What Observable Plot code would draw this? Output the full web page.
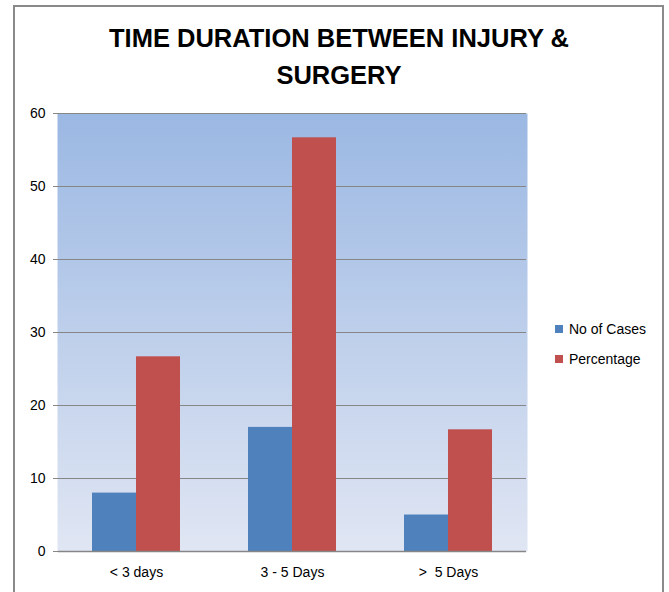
<!DOCTYPE html>
<html>
<head>
<meta charset="utf-8">
<script src="https://cdn.jsdelivr.net/npm/d3@7"></script>
<script src="https://cdn.jsdelivr.net/npm/@observablehq/plot@0.6"></script>
<style>
  html, body { margin: 0; padding: 0; background: #fff; }
  body { width: 669px; height: 592px; position: relative; overflow: hidden; font-family: "Liberation Sans", Arial, sans-serif; }
  #box { position: absolute; left: 13px; top: 5px; width: 651px; height: 640px; border: 2px solid #8a8a8a; box-sizing: border-box; }
  #title { position: absolute; left: 0; width: 678px; top: 20px; text-align: center; font-family: "Liberation Sans", Arial, sans-serif; font-weight: bold; font-size: 25.5px; line-height: 37px; color: #000; }
  #chart { position: absolute; left: 0; top: 100px; }
  #legend { position: absolute; left: 555px; top: 314px; font-size: 14px; color: #000; }
  #legend div { display: flex; align-items: center; height: 30px; }
  #legend span.sw { display: inline-block; width: 8px; height: 8px; margin-right: 6px; }
  #chart text { white-space: pre; }
</style>
</head>
<body>
<svg width="0" height="0" style="position:absolute">
  <defs>
    <linearGradient id="plotBg" x1="0" y1="0" x2="0" y2="1">
      <stop offset="0" stop-color="#9bb8e3"/>
      <stop offset="1" stop-color="#e0e6f3"/>
    </linearGradient>
  </defs>
</svg>
<div id="box"></div>
<div id="title">TIME DURATION BETWEEN INJURY &amp;<br>SURGERY</div>
<div id="chart"></div>
<div id="legend"></div>
<script>
// Time between injury and surgery, grouped by series
const categories = ["< 3 days", "3 - 5 Days", ">  5 Days"];
const seriesNames = ["No of Cases", "Percentage"];
const noOfCases = [8, 17, 5];
const percentage = [26.67, 56.67, 16.67];
const seriesColors = ["#4f81bd", "#c0504d"];
const yTicks = [0, 10, 20, 30, 40, 50, 60];

const rows = categories.flatMap((c, i) => [
  {category: c, series: seriesNames[0], value: noOfCases[i]},
  {category: c, series: seriesNames[1], value: percentage[i]}
]);

const chart = Plot.plot({
  width: 669,
  height: 492,
  marginLeft: 57,
  marginRight: 142,
  marginTop: 13,
  marginBottom: 41,
  style: {fontFamily: "Liberation Sans, Arial, sans-serif", fontSize: "14px", color: "#000", background: "transparent"},
  fx: {domain: categories, padding: 0, label: null, axis: "bottom", tickSize: 0, tickPadding: 16},
  x: {domain: seriesNames, paddingInner: 0, paddingOuter: 0.74, axis: null},
  y: {domain: [0, 60], ticks: yTicks, label: null, axis: null},
  color: {domain: seriesNames, range: seriesColors},
  marks: [
    // overlapping facet backgrounds so the gradient reads as one panel
    Plot.frame({fill: "url(#plotBg)", stroke: null, insetLeft: -1, insetRight: -1}),
    Plot.ruleY(yTicks.filter(d => d > 0), {stroke: "#868686", strokeWidth: 1}),
    Plot.barY(rows, {fx: "category", x: "series", y: "value", fill: "series", inset: 0}),
    Plot.ruleY([0], {stroke: "#868686", strokeWidth: 1.5}),
    Plot.axisY({ticks: yTicks, tickSize: 5, tickPadding: 8, stroke: "#868686", fill: "#000", label: null}),
    Plot.ruleX([0], {facet: "exclude", fx: () => categories[0], stroke: "#a6a6a6", strokeWidth: 1.5})
  ]
});
document.getElementById("chart").appendChild(chart);

const legend = document.getElementById("legend");
seriesNames.forEach((name, i) => {
  const row = document.createElement("div");
  const sw = document.createElement("span");
  sw.className = "sw";
  sw.style.background = seriesColors[i];
  row.appendChild(sw);
  row.appendChild(document.createTextNode(name));
  legend.appendChild(row);
});
</script>
</body>
</html>
